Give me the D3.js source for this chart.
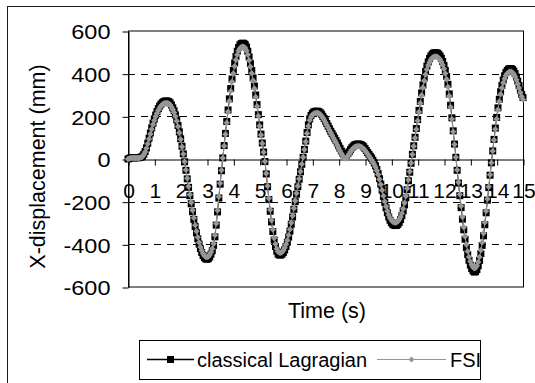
<!DOCTYPE html>
<html><head><meta charset="utf-8">
<script src="https://cdn.jsdelivr.net/npm/d3@7"></script>
<style>
body{margin:0;background:#fff}
svg{display:block}
text{font-family:"Liberation Sans",Arial,sans-serif;fill:#000}
</style></head>
<body><svg id="c" width="535" height="383"></svg>
<script>
// ---- data ----
const dt = 0.05; // sampling step (s)
const xLabels = ["0","1","2","3","4","5","6","7","8","9","10","11","12","13","14","15"];
const yTicks = [-600,-400,-200,0,200,400,600];
const gridValues = [400,200,-200,-400];
const seriesNames = ["classical Lagragian","FSI"];
// classical Lagrangian X-displacement (mm), t = 0 .. 15 s every 0.05 s
const lagrangian = [
 0,3,5,6,6,6,6,6,6,7,
 9,13,22,35,52,74,98,122,146,168,
 188,206,222,236,248,257,264,268,271,272,
 271,269,263,253,240,226,207,184,157,127,
 95,60,24,-13,-53,-93,-133,-172,-210,-247,
 -283,-316,-346,-374,-399,-420,-438,-452,-462,-468,
 -470,-467,-459,-446,-430,-405,-365,-310,-248,-183,
 -118,-55,5,63,120,176,230,282,330,375,
 415,450,480,505,523,535,541,543,542,537,
 525,505,478,447,415,380,342,300,255,208,
 160,117,75,33,-12,-70,-130,-190,-245,-295,
 -340,-380,-410,-432,-446,-450,-450,-446,-438,-426,
 -410,-390,-366,-338,-306,-272,-236,-200,-165,-130,
 -95,-60,-25,8,45,84,124,160,188,204,
 214,220,223,224,224,222,217,210,200,190,
 178,166,154,142,130,119,108,97,86,75,
 62,50,38,28,20,16,18,25,34,44,
 53,60,65,68,70,70,69,67,63,57,
 49,40,30,22,13,4,-6,-18,-32,-49,
 -69,-92,-118,-146,-175,-203,-229,-252,-272,-287,
 -298,-306,-310,-312,-311,-306,-297,-284,-266,-243,
 -215,-182,-144,-102,-62,-20,22,62,102,143,
 185,228,270,310,347,380,410,435,455,471,
 483,491,496,498,498,496,491,483,472,457,
 438,415,387,350,305,252,193,132,70,8,
 -53,-113,-172,-228,-282,-332,-376,-415,-448,-475,
 -497,-513,-524,-530,-528,-518,-500,-475,-443,-405,
 -360,-308,-252,-193,-134,-76,-18,38,92,145,
 195,240,280,315,345,370,390,405,415,421,
 424,424,420,412,400,384,365,344,322,303,
 288];
// FSI X-displacement (mm)
const fsi = [
 0,2,4,5,5,5,5,5,5,6,
 8,12,21,33,50,71,94,117,140,162,
 181,199,214,228,239,248,255,259,261,262,
 261,259,254,244,232,218,200,178,152,123,
 92,58,23,-13,-51,-90,-129,-167,-204,-240,
 -276,-310,-339,-367,-391,-412,-429,-443,-453,-458,
 -460,-457,-450,-437,-421,-397,-357,-302,-241,-177,
 -114,-53,5,61,116,170,222,272,318,362,
 401,435,464,489,507,518,524,526,525,520,
 508,489,463,433,402,368,331,291,247,202,
 155,113,73,32,-12,-68,-126,-184,-238,-287,
 -331,-370,-399,-421,-435,-439,-440,-436,-428,-416,
 -400,-381,-357,-330,-299,-266,-231,-196,-161,-127,
 -93,-59,-24,8,44,81,120,155,182,197,
 207,212,215,216,216,214,209,202,193,183,
 171,159,147,135,123,111,99,88,76,64,
 51,38,26,15,6,2,6,14,24,34,
 43,50,55,58,60,60,59,57,53,47,
 40,32,23,14,5,-4,-14,-25,-38,-54,
 -73,-95,-120,-146,-173,-199,-223,-244,-262,-276,
 -286,-293,-297,-298,-297,-292,-284,-272,-255,-233,
 -206,-174,-138,-98,-59,-19,21,60,99,139,
 179,220,261,299,335,367,396,420,439,454,
 466,473,478,480,480,478,473,466,455,441,
 423,401,374,338,295,244,187,128,68,8,
 -51,-109,-166,-220,-272,-320,-363,-401,-433,-459,
 -480,-496,-506,-512,-510,-500,-483,-459,-428,-391,
 -348,-298,-244,-187,-130,-74,-17,37,89,140,
 188,231,270,304,333,357,376,391,401,406,
 409,409,405,397,386,371,353,333,312,293,
 279];

// ---- drawing ----
const svg = d3.select('#c');
const GRAY = '#969696';
svg.append('rect').attr('x',7.5).attr('y',6.5).attr('width',800).attr('height',800)
  .attr('fill','#fff').attr('stroke','#1a1a1a');

const x = d3.scaleLinear().domain([0, 15]).range([128, 523]);
const y = d3.scaleLinear().domain([-600, 600]).range([287, 31]);
const cy = v => Math.round(y(v)) + 0.5;

// gridlines
svg.append('g').selectAll('line').data(gridValues).join('line')
  .attr('x1', x(0)).attr('x2', x(15))
  .attr('y1', cy).attr('y2', cy)
  .attr('stroke', '#000').attr('stroke-width', 1).attr('stroke-dasharray', '7,6');

// plot border
svg.append('rect').attr('x', x(0) + 0.5).attr('y', cy(600) - 0.5)
  .attr('width', x(15) - x(0)).attr('height', cy(-600) - cy(600))
  .attr('fill', 'none').attr('stroke', '#000');

// y axis
const yAxis = svg.append('g').attr('transform', `translate(${x(0)+0.5},0.5)`)
  .call(d3.axisLeft(y).tickValues(yTicks).tickSize(6).tickSizeOuter(0).tickFormat(d => String(d)));
yAxis.select('.domain').attr('stroke', '#000');
yAxis.selectAll('.tick line').attr('stroke', '#000');
yAxis.selectAll('.tick text')
  .attr('x', 0).attr('dy', '0.35em')
  .attr('transform', 'translate(-18,0) scale(1.12,1)')
  .style('font-size', '21px').style('font-family', '"Liberation Sans",Arial,sans-serif').attr('fill', '#000');

// x axis on zero line
const xAxis = svg.append('g').attr('transform', `translate(0.5,${cy(0)})`)
  .call(d3.axisBottom(x).tickValues(xLabels.map((d, i) => i)).tickSize(6).tickSizeOuter(0)
    .tickFormat((d, i) => xLabels[i]));
xAxis.select('.domain').attr('stroke', '#000');
xAxis.selectAll('.tick line').attr('stroke', '#000');
xAxis.selectAll('.tick text').attr('y', 38).attr('dy', 0)
  .style('font-size', '21px').style('font-family', '"Liberation Sans",Arial,sans-serif').attr('fill', '#000');

// series
const line = d3.line().x((d, i) => x(i * dt)).y(d => y(d));
const diamond = r => `M0,${-r}L${r},0L0,${r}L${-r},0Z`;

svg.append('path').datum(lagrangian).attr('d', line)
  .attr('fill', 'none').attr('stroke', '#000').attr('stroke-width', 1);
svg.append('g').selectAll('rect').data(lagrangian).join('rect')
  .attr('x', (d, i) => x(i * dt) - 3.5).attr('y', d => y(d) - 3.5)
  .attr('width', 7).attr('height', 7).attr('fill', '#000');

svg.append('path').datum(fsi).attr('d', line)
  .attr('fill', 'none').attr('stroke', GRAY).attr('stroke-width', 1);
svg.append('g').selectAll('path').data(fsi).join('path')
  .attr('d', diamond(3.2))
  .attr('transform', (d, i) => `translate(${x(i * dt)},${y(d)})`)
  .attr('fill', GRAY);

// axis titles
svg.append('text').attr('x', 327).attr('y', 318).attr('text-anchor', 'middle')
  .style('font-size', '21.5px').text('Time (s)');
svg.append('text').attr('transform', 'translate(45,166.5) rotate(-90)').attr('text-anchor', 'middle')
  .style('font-size', '21.5px').text('X-displacement (mm)');

// legend
const lg = svg.append('g');
lg.append('rect').attr('x', 139.5).attr('y', 340.5).attr('width', 341).attr('height', 39)
  .attr('fill', '#fff').attr('stroke', '#000');
lg.append('line').attr('x1', 147).attr('x2', 194).attr('y1', 359.5).attr('y2', 359.5)
  .attr('stroke', '#000').attr('stroke-width', 1.5);
lg.append('rect').attr('x', 167).attr('y', 356).attr('width', 7).attr('height', 7).attr('fill', '#000');
lg.append('text').attr('x', 197).attr('y', 366.5).style('font-size', '20px').text(seriesNames[0]);
lg.append('line').attr('x1', 377).attr('x2', 446).attr('y1', 359.5).attr('y2', 359.5)
  .attr('stroke', GRAY).attr('stroke-width', 1.2);
lg.append('path').attr('d', diamond(3)).attr('transform', 'translate(411.5,359.5)').attr('fill', GRAY);
lg.append('text').attr('x', 450).attr('y', 366.5).style('font-size', '20px').text(seriesNames[1]);
</script></body></html>
